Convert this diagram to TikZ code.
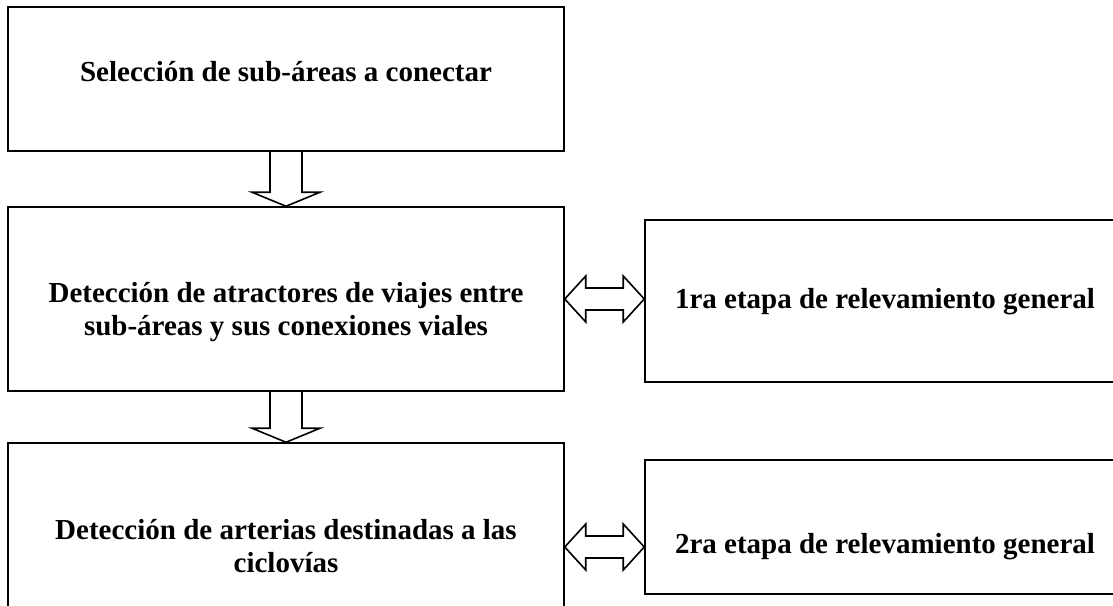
\documentclass[tikz,border=0pt]{standalone}
\usepackage{fontspec}
\setmainfont{Liberation Serif}
\usetikzlibrary{calc}
\newcommand{\blockdown}[2]{%
  \draw[blockarrow] ($(#1.south)+(-16,0)$) -- ($(#2.north)+(-16,14)$) -- ($(#2.north)+(-34,14)$)
    -- (#2.north) -- ($(#2.north)+(34,14)$) -- ($(#2.north)+(16,14)$) -- ($(#1.south)+(16,0)$);}
\newcommand{\blockboth}[2]{%
  \draw[blockarrow] (#1.east) -- ($(#1.east)+(21,23)$) -- ($(#1.east)+(21,11)$)
    -- ($(#1.east -| #2.west)+(-21,11)$) -- ($(#1.east -| #2.west)+(-21,23)$) -- (#1.east -| #2.west)
    -- ($(#1.east -| #2.west)+(-21,-23)$) -- ($(#1.east -| #2.west)+(-21,-11)$)
    -- ($(#1.east)+(21,-11)$) -- ($(#1.east)+(21,-23)$) -- cycle;}
\begin{document}
\begin{tikzpicture}[x = 1pt, y = 1pt,
  box/.style = {draw, line width = 1.5pt, inner sep = 0pt},
  txt/.style = {font = \fontsize{29}{33}\selectfont\bfseries, align = center},
  blockarrow/.style = {draw, line width = 1.6pt, line join = miter}]
\useasboundingbox (0, 0) rectangle (1113, 605);
\clip (0, 0) rectangle (1113, 605);
\draw (286, 526) node[box, minimum width = 556pt, minimum height = 144pt] (sel) {};
\draw (286, 306) node[box, minimum width = 556pt, minimum height = 184pt] (atr) {};
\draw (286, 58) node[box, minimum width = 556pt, minimum height = 208pt] (art) {};
\draw (903, 304) node[box, minimum width = 516pt, minimum height = 162pt] (rel1) {};
\draw (903, 78) node[box, minimum width = 516pt, minimum height = 134pt] (rel2) {};
\draw (286, 533) node[txt] (selt) {Selección de sub-áreas a conectar};
\draw (286, 293) node[txt] (atrt) {Detección de atractores de viajes entre\\sub-áreas y sus conexiones viales};
\draw (286, 59) node[txt] (artt) {Detección de arterias destinadas a las\\ciclovías};
\draw (885, 303) node[txt] (rel1t) {1ra etapa de relevamiento general};
\draw (885, 58) node[txt] (rel2t) {2ra etapa de relevamiento general};
\blockdown{sel}{atr}
\blockdown{atr}{art}
\blockboth{atr}{rel1}
\blockboth{art}{rel2}
\end{tikzpicture}
\end{document}
